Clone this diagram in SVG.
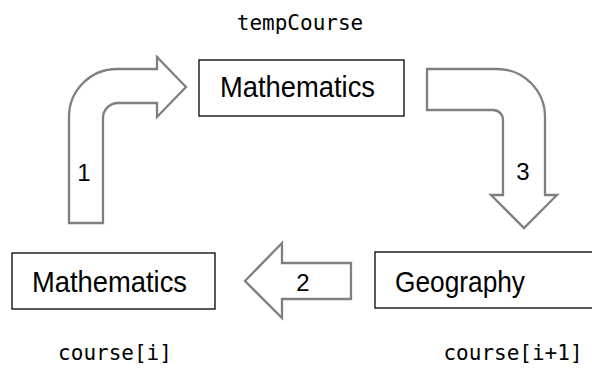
<svg xmlns="http://www.w3.org/2000/svg" width="592" height="370" viewBox="0 0 592 370">
<style>
.box{fill:#fff;stroke:#000;stroke-width:1.3}
.arr{fill:#fff;stroke:#7f7f7f;stroke-width:2.3;stroke-linejoin:miter}
.t{font-family:"Liberation Sans",Arial,sans-serif;font-size:29px;fill:#000}
.n{font-family:"Liberation Sans",Arial,sans-serif;font-size:24px;fill:#000;text-anchor:middle}
.m{font-family:"DejaVu Sans Mono","Liberation Mono",monospace;font-size:21px;fill:#000;text-anchor:middle}
</style>
<rect width="592" height="370" fill="#fff"/>
<g id="connectors">
<g id="arrow1">
<path class="arr" d="M69,223 L69,117 A48,48 0 0 1 117,69 L157,69 L157,57 L186,87 L157,117 L157,103 L118,103 A15,15 0 0 0 103,118 L103,223 Z"/>
<text class="n" x="84" y="181">1</text>
</g>
<g id="arrow2">
<path class="arr" d="M245,281 L282,243 L282,263 L351,263 L351,299 L282,299 L282,318 Z"/>
<text class="n" x="303" y="291">2</text>
</g>
<g id="arrow3">
<path class="arr" d="M427,69 L497,69 A48,48 0 0 1 545,117 L545,195 L557,195 L524,228 L491,195 L503,195 L503,120 A10,10 0 0 0 493,110 L427,110 Z"/>
<text class="n" x="523" y="180">3</text>
</g>
</g>
<g id="tempCourse">
<text class="m" x="300" y="30">tempCourse</text>
<rect class="box" x="199" y="60" width="205" height="56"/>
<text class="t" x="220" y="97" textLength="155" lengthAdjust="spacingAndGlyphs">Mathematics</text>
</g>
<g id="courseI">
<rect class="box" x="12" y="253" width="203" height="56"/>
<text class="t" x="32" y="292" textLength="155" lengthAdjust="spacingAndGlyphs">Mathematics</text>
<text class="m" x="115" y="360">course[i]</text>
</g>
<g id="courseI1">
<rect class="box" x="375" y="252" width="240" height="56"/>
<text class="t" x="395" y="292" textLength="130" lengthAdjust="spacingAndGlyphs">Geography</text>
<text class="m" x="513" y="360">course[i+1]</text>
</g>
</svg>
